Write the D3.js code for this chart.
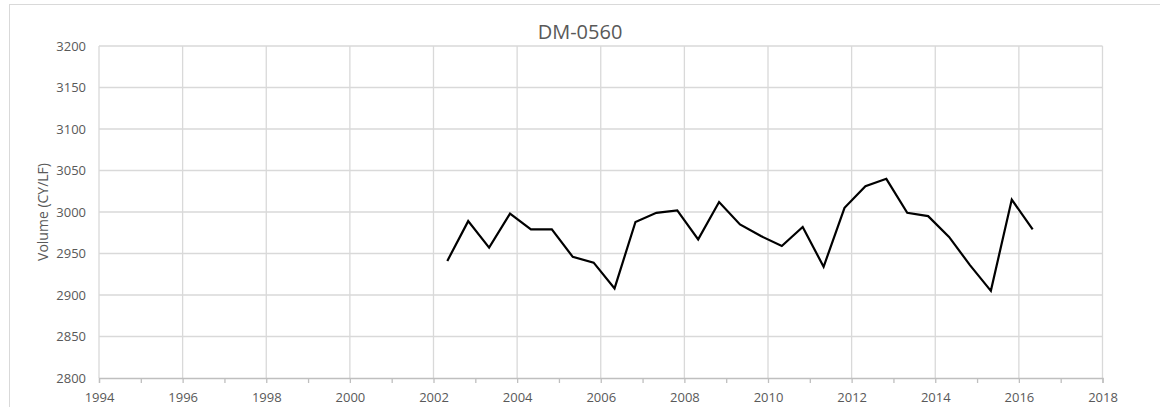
<!DOCTYPE html>
<html><head><meta charset="utf-8">
<script src="https://cdn.jsdelivr.net/npm/d3@7"></script>
<style>body{margin:0;background:#fff}svg{display:block}</style>
</head><body>
<svg id="c" width="1160" height="407"></svg>
<script>
const title = "DM-0560";
const yTitle = "Volume (CY/LF)";
const years = [2002.33,2002.83,2003.33,2003.83,2004.33,2004.83,2005.33,2005.83,2006.33,2006.83,2007.33,2007.83,2008.33,2008.83,2009.33,2009.83,2010.33,2010.83,2011.33,2011.83,2012.33,2012.83,2013.33,2013.83,2014.33,2014.83,2015.33,2015.83,2016.33];
const volumes = [2941,2989,2957,2998,2979,2979,2946,2939,2908,2988,2999,3002,2967,3012,2985,2971,2959,2982,2934,3005,3031,3040,2999,2995,2970,2936,2905,3015,2979];
const xTicks = [1994,1996,1998,2000,2002,2004,2006,2008,2010,2012,2014,2016,2018];
const yTicks = [2800,2850,2900,2950,3000,3050,3100,3150,3200];

const svg = d3.select("#c");
const font = "'Open Sans', 'Noto Sans', sans-serif";
const pL = 99, pR = 1102.5, pT = 46, pB = 378;
const x = d3.scaleLinear().domain([1994, 2018]).range([pL, pR]);
const y = d3.scaleLinear().domain([2800, 3200]).range([pB, pT]);

svg.append("rect").attr("x", 9.5).attr("y", 4.5).attr("width", 1160).attr("height", 420)
  .attr("fill", "none").attr("stroke", "#d9d9d9");

// gridlines
svg.append("g").selectAll("line").data(yTicks.filter(d => d !== 2800)).join("line")
  .attr("x1", pL).attr("x2", pR).attr("y1", d => y(d)).attr("y2", d => y(d))
  .attr("stroke", "#d9d9d9").attr("stroke-width", 1.3);
svg.append("g").selectAll("line").data(xTicks).join("line")
  .attr("x1", d => x(d)).attr("x2", d => x(d)).attr("y1", pT).attr("y2", pB)
  .attr("stroke", "#d9d9d9").attr("stroke-width", 1.3);

// x axis
const xAxis = svg.append("g").attr("transform", `translate(0,${pB})`)
  .call(d3.axisBottom(x).tickValues(d3.range(1994, 2019, 1)).tickSize(5).tickFormat(d => xTicks.includes(d) ? d : ""));
xAxis.select(".domain").attr("stroke", "#bfbfbf").attr("stroke-width", 1.3);
xAxis.selectAll(".tick line").attr("stroke", "#bfbfbf").attr("stroke-width", 1.3);
xAxis.selectAll(".tick text").attr("fill", "#595959").attr("font-size", 13).attr("font-family", font).attr("dy", "1.2em");

// y axis
const yAxis = svg.append("g").attr("transform", `translate(${pL},0)`)
  .call(d3.axisLeft(y).tickValues(yTicks).tickSize(0).tickPadding(13).tickFormat(d3.format("d")));
yAxis.select(".domain").remove();
yAxis.selectAll(".tick text").attr("fill", "#595959").attr("font-size", 13).attr("font-family", font);

// line
svg.append("path").datum(years.map((d, i) => [d, volumes[i]]))
  .attr("fill", "none").attr("stroke", "#000").attr("stroke-width", 2.2).attr("stroke-linejoin", "miter")
  .attr("d", d3.line().x(d => x(d[0])).y(d => y(d[1])));

// titles
svg.append("text").attr("x", 580).attr("y", 39).attr("text-anchor", "middle")
  .attr("font-size", 20).attr("fill", "#595959").attr("font-family", font).text(title);
svg.append("text").attr("transform", `translate(48,${(pT + pB) / 2}) rotate(-90)`)
  .attr("text-anchor", "middle").attr("font-size", 14).attr("fill", "#595959").attr("font-family", font).text(yTitle);
</script>
</body></html>
